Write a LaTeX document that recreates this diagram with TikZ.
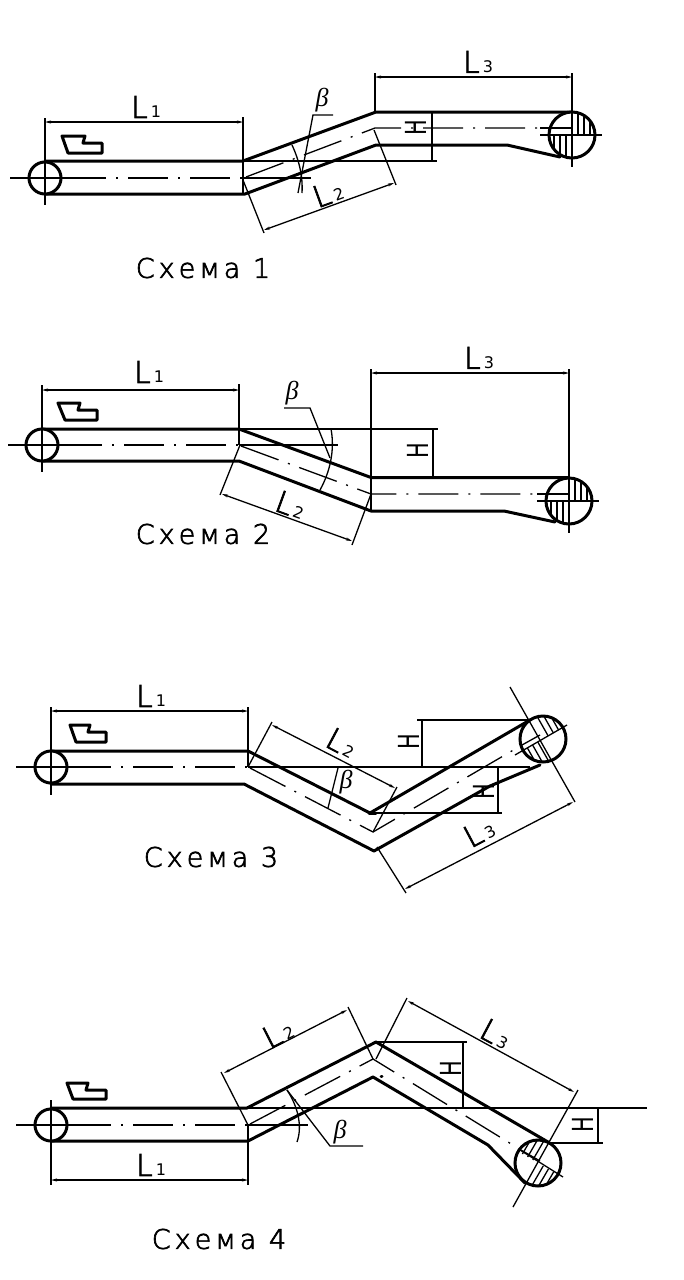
\documentclass[tikz,border=0pt]{standalone}
\usepackage{fontspec}
\setmainfont[FakeBold=2.5]{DejaVu Sans ExtraLight}
\newfontfamily\capfont[LetterSpace=15,FakeBold=2.5]{DejaVu Sans ExtraLight}
\newfontfamily\labfont{DejaVu Sans}
\newfontfamily\grkfont{Liberation Serif}
\usetikzlibrary{arrows.meta}
\newcommand{\Lab}[1]{{\fontsize{30}{30}\selectfont L}\kern3pt{\labfont\fontsize{16}{16}\selectfont #1}}
\newcommand{\Hlab}{\scalebox{.72}[1]{\labfont\fontsize{29}{29}\selectfont H}}
\newcommand{\Blab}{{\fontsize{26}{26}\grkfont\itshape β}}
\newcommand{\Cap}[1]{{\fontsize{27}{27}\capfont #1}}
% centre x, centre y, rotation, side of the hatched quadrants (1 or -1)
\newcommand{\hatchdisc}[4]{%
  \begin{scope}[shift={(#1,#2)},rotate=#3]
    \clip (0,0) circle[radius=23pt];
    \foreach \d in {6,12,18}{
      \draw[thinl] (#4*\d,0) -- (#4*\d,-25);
      \draw[thinl] (-#4*\d,0) -- (-#4*\d,25);
    }
  \end{scope}}
\tikzset{
  x=1pt,y=-1pt,
  thickl/.style={line width=3pt,line join=round,line cap=round},
  midl/.style={line width=1.8pt},
  thinl/.style={line width=1.3pt},
  axisl/.style={line width=1.3pt,dash pattern=on 40pt off 10pt on 2pt off 10pt},
  dimline/.style={line width=1.3pt,{Stealth[length=6pt,width=3pt]}-{Stealth[length=6pt,width=3pt]}},
  disc/.style={line width=3pt,fill=white},
  txt/.style={inner sep=0pt,outer sep=0pt,text=black},
}
\begin{document}
\begin{tikzpicture}
\useasboundingbox (0,0) rectangle (683,1280);
\fill[white] (0,0) rectangle (683,1280);

% ---------- Scheme 1
\draw[thickl] (62,136) -- (85,136) -- (83,143) -- (102,143) -- (102,153) -- (68,153) -- cycle;
\draw[thickl] (45,161) -- (243,161) -- (376,112) -- (572,112);
\draw[thickl] (45,194) -- (245,194) -- (376,145) -- (507,145) -- (560,157);
\draw[axisl] (66,178) -- (243,178);
\draw[axisl] (246,177) -- (375,128) -- (572,128);
\draw[thinl] (243,178) -- (311,178);
\draw[midl] (243,161) -- (243,194);
\draw[midl] (243,161) -- (437,161);
\draw[disc] (45,178) circle[radius=16];
\draw[thinl] (10,178) -- (66,178);
\draw[thinl] (45,118) -- (45,205);
\draw[thinl] (243,117) -- (243,161);
\draw[dimline] (45,122) -- (243,122);
\draw[thinl] (375,73) -- (375,112);
\draw[dimline] (375,77) -- (572,77);
\draw[disc] (572,135) circle[radius=23];
\hatchdisc{572}{135}{0}{1}
\draw[thinl] (540,128) -- (572,128);
\draw[thinl] (540,135) -- (602,135);
\draw[thinl] (572,73) -- (572,167);
\draw[thinl] (243,180) -- (264,233);
\draw[thinl] (374,130) -- (396,185);
\draw[dimline] (264,230) -- (394,183);
\draw[thinl] (432,112) -- (432,161);
\draw[thinl] (298,193) -- (313,115) -- (333,115);
\draw[thinl] (292,145) .. controls (299,160) and (303,176) .. (302,193);
\node[txt] (s1l1) at (146,107) {\Lab{1}};
\node[txt] (s1l3) at (478,62) {\Lab{3}};
\node[txt,rotate=20] (s1l2) at (328,193) {\Lab{2}};
\node[txt,rotate=90] (s1h) at (416,128) {\Hlab};
\node[txt] (s1b) at (322,100) {\Blab};
\node[txt] (s1c) at (203,268) {\Cap{Схема 1}};

% ---------- Scheme 2
\draw[thickl] (58,403) -- (80,403) -- (78,410) -- (97,410) -- (97,420) -- (65,420) -- cycle;
\draw[thickl] (42,429) -- (239,429) -- (371,477.5) -- (569,477.5);
\draw[thickl] (42,461) -- (239,461) -- (371,511) -- (504,511) -- (555,522);
\draw[axisl] (62,445) -- (238,445);
\draw[axisl] (241,446) -- (371,494) -- (569,494);
\draw[thinl] (239,445) -- (338,445);
\draw[thinl] (239,429) -- (438,429);
\draw[disc] (42,445) circle[radius=16];
\draw[thinl] (8,445) -- (62,445);
\draw[thinl] (42,385) -- (42,472);
\draw[thinl] (239,384) -- (239,445);
\draw[dimline] (42,390) -- (239,390);
\draw[thinl] (371,369) -- (371,511);
\draw[dimline] (371,373) -- (569,373);
\draw[disc] (569,501) circle[radius=23];
\hatchdisc{569}{501}{0}{1}
\draw[thinl] (537,494) -- (569,494);
\draw[thinl] (537,501) -- (599,501);
\draw[thinl] (569,369) -- (569,533);
\draw[thinl] (240,445) -- (220,495);
\draw[thinl] (371,494) -- (352,545);
\draw[dimline] (222,494) -- (352,541);
\draw[thinl] (433,429) -- (433,477);
\draw[thinl] (330,458) -- (310,408) -- (284,408);
\draw[thinl] (331,429) .. controls (335,450) and (330,472) .. (320,490);
\node[txt] (s2l1) at (149,372) {\Lab{1}};
\node[txt] (s2l3) at (479,358) {\Lab{3}};
\node[txt,rotate=-20] (s2l2) at (291,505) {\Lab{2}};
\node[txt,rotate=90] (s2h) at (418,451) {\Hlab};
\node[txt] (s2b) at (292,393) {\Blab};
\node[txt] (s2c) at (203,534) {\Cap{Схема 2}};

% ---------- Scheme 3
\draw[thickl] (70,725) -- (90,725) -- (88,732) -- (106,732) -- (106,742) -- (76,742) -- cycle;
\draw[thickl] (51,751) -- (248,751) -- (370,813) -- (530,720);
\draw[thickl] (51,784) -- (244,784) -- (374,851) -- (490,786) -- (540,765);
\draw[axisl] (71,767) -- (247,767);
\draw[axisl] (250,768) -- (373,832) -- (522,745);
\draw[line width=2.7pt] (248,767) -- (316,767);
\draw[thinl] (248,767) -- (530,767);
\draw[thinl] (370,813) -- (502,813);
\draw[thickl] (369,813) -- (376,813);
\draw[disc] (51,767) circle[radius=16];
\draw[thinl] (16,767) -- (71,767);
\draw[thinl] (51,707) -- (51,795);
\draw[midl] (248,707) -- (248,767);
\draw[dimline] (51,711) -- (248,711);
\draw[disc] (543,739) circle[radius=23];
\hatchdisc{543}{739}{29.5}{1}
\draw[thinl] (522,745) -- (540,735);
\draw[thinl] (515,755) -- (567,725);
\draw[thinl] (510,687) -- (575,802);
\draw[thinl] (248,767) -- (272,722);
\draw[thinl] (373,832) -- (397,787);
\draw[dimline] (272,725) -- (395,788);
\draw[thinl] (377,847) -- (406,893);
\draw[dimline] (405,889) -- (573,802);
\draw[thinl] (417,720) -- (530,720);
\draw[thinl] (422,720) -- (422,767);
\draw[thinl] (498,767) -- (498,813);
\draw[thinl] (338,768) -- (328,808);
\node[txt] (s3l1) at (151,696) {\Lab{1}};
\node[txt,rotate=-28] (s3l2) at (342,743) {\Lab{2}};
\node[txt,rotate=28] (s3l3) at (479,832) {\Lab{3}};
\node[txt,rotate=90] (s3h1) at (409,742) {\Hlab};
\node[txt,rotate=90] (s3h2) at (484,792) {\Hlab};
\node[txt] (s3b) at (346,782) {\Blab};
\node[txt] (s3c) at (211,857) {\Cap{Схема 3}};

% ---------- Scheme 4
\draw[thickl] (67,1083) -- (88,1083) -- (86,1090) -- (106,1090) -- (106,1099) -- (73,1099) -- cycle;
\draw[thickl] (51,1108) -- (247,1108) -- (376,1042) -- (548,1142);
\draw[thickl] (51,1141) -- (248,1141) -- (373,1077) -- (488,1145) -- (525,1183);
\draw[axisl] (71,1125) -- (247,1125);
\draw[axisl] (250,1124) -- (373,1059) -- (521,1150);
\draw[thinl] (248,1108) -- (647,1108);
\draw[thinl] (248,1125) -- (308,1125);
\draw[thinl] (376,1042) -- (467,1042);
\draw[thinl] (548,1143) -- (603,1143);
\draw[thickl] (381,1076) -- (382,1076);
\draw[disc] (51,1125) circle[radius=16];
\draw[thinl] (16,1125) -- (71,1125);
\draw[thinl] (51,1100) -- (51,1185);
\draw[midl] (248,1125) -- (248,1185);
\draw[dimline] (51,1180) -- (248,1180);
\draw[disc] (538,1163) circle[radius=23];
\hatchdisc{538}{1163}{-30}{-1}
\draw[thinl] (521,1150) -- (540,1161);
\draw[thinl] (520,1150) -- (563,1177);
\draw[thinl] (578,1090) -- (513,1207);
\draw[thinl] (248,1125) -- (221,1072);
\draw[thinl] (373,1059) -- (348,1007);
\draw[dimline] (224,1073) -- (347,1010);
\draw[thinl] (376,1059) -- (407,998);
\draw[dimline] (408,1001) -- (574,1092);
\draw[thinl] (463,1042) -- (463,1108);
\draw[thinl] (598,1108) -- (598,1143);
\draw[thinl] (363,1146) -- (330,1146) -- (287,1090);
\draw[thinl] (287,1090) .. controls (297,1105) and (303,1125) .. (297,1142);
\node[txt] (s4l1) at (151,1165) {\Lab{1}};
\node[txt,rotate=27] (s4l2) at (278,1033) {\Lab{2}};
\node[txt,rotate=-28] (s4l3) at (496,1034) {\Lab{3}};
\node[txt,rotate=90] (s4h1) at (451,1069) {\Hlab};
\node[txt,rotate=90] (s4h2) at (583,1125) {\Hlab};
\node[txt] (s4b) at (340,1132) {\Blab};
\node[txt] (s4c) at (219,1239) {\Cap{Схема 4}};
\end{tikzpicture}
\end{document}
